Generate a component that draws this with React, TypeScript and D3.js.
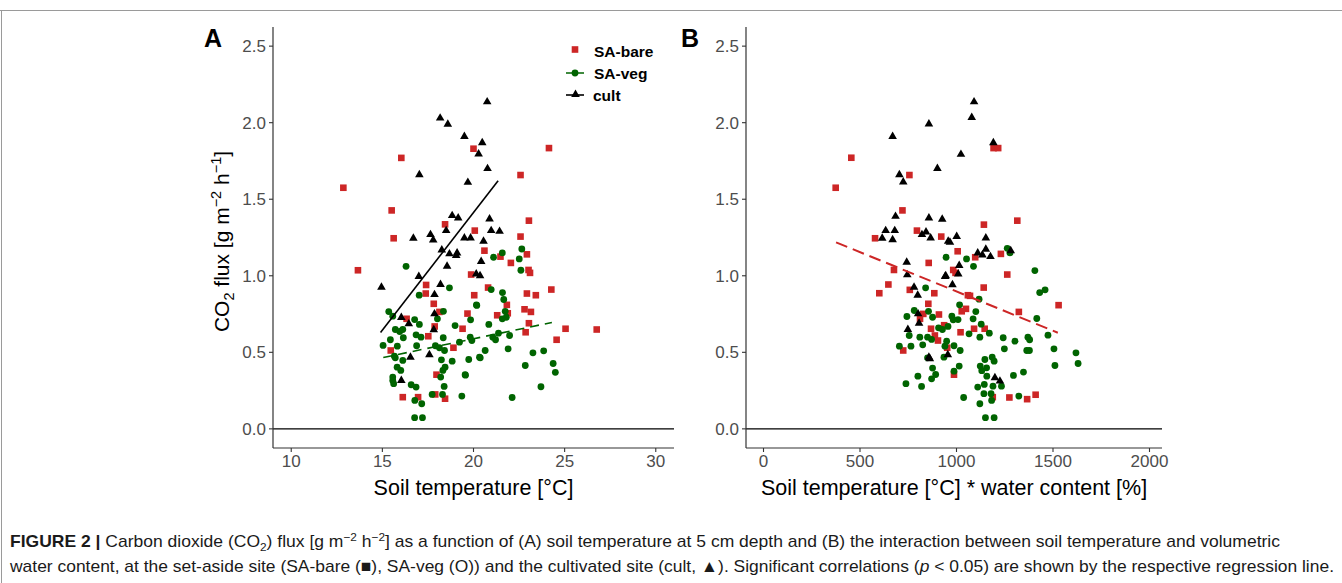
import React from 'react';
import * as d3 from 'd3';

const W = 1342;
const H = 583;

const yTicks = [0, 0.5, 1.0, 1.5, 2.0, 2.5];
const xTicksA = [10, 15, 20, 25, 30];
const xTicksB = [0, 500, 1000, 1500, 2000];

type P = [number, number];

// Panel A: soil temperature vs CO2 flux
const bareA: P[] = [
  [20.0,1.83],[16.04,1.77],[12.86,1.575],[15.51,1.427],[18.44,1.336],[20.07,1.295],[24.14,1.834],[22.58,1.658],
  [23.04,1.36],[15.62,1.245],[13.66,1.036],[19.87,1.008],[17.4,0.94],[17.38,0.884],[20.04,0.873],[17.82,0.817],
  [18.13,0.764],[19.67,0.753],[16.33,0.719],[17.87,0.669],[19.4,0.654],[17.52,0.605],[18.9,0.53],[15.46,0.512],
  [17.97,0.354],[16.12,0.207],[16.96,0.207],[17.9,0.225],[18.44,0.197],[22.58,1.256],[21.48,1.125],[20.6,1.164],
  [22.93,1.14],[22.05,1.084],[23.02,1.038],[23.1,1.019],[20.8,0.923],[24.27,0.91],[22.93,0.884],[23.42,0.873],
  [21.83,0.81],[22.8,0.781],[23.15,0.764],[21.3,0.742],[21.88,0.755],[23.04,0.69],[25.05,0.654],[26.76,0.649],
  [22.86,0.631],[24.56,0.582]
];
const vegA: P[] = [
  [16.3,1.062],[18.68,0.921],[17.02,0.873],[20.18,0.806],[18.35,0.768],[15.35,0.766],[16.77,0.714],[18.02,0.719],
  [15.57,0.736],[17.03,0.682],[19.84,0.712],[18.99,0.675],[15.71,0.649],[16.12,0.649],[15.95,0.636],[16.85,0.614],
  [17.12,0.599],[18.34,0.595],[16.15,0.595],[19.82,0.599],[19.91,0.577],[15.44,0.582],[15.04,0.545],[15.82,0.54],
  [16.88,0.543],[17.91,0.543],[18.13,0.53],[18.41,0.512],[15.66,0.475],[16.12,0.447],[15.71,0.464],[18.24,0.451],
  [18.83,0.442],[20.33,0.468],[18.44,0.403],[18.32,0.382],[15.81,0.403],[16.01,0.382],[19.54,0.354],[18.2,0.338],
  [15.57,0.338],[15.62,0.295],[15.57,0.316],[16.58,0.288],[16.85,0.273],[18.39,0.277],[16.78,0.186],[17.16,0.164],
  [17.73,0.225],[18.3,0.225],[19.36,0.214],[16.77,0.073],[17.2,0.073],[22.65,1.175],[21.1,1.121],[21.58,1.149],
  [22.51,1.11],[22.6,1.036],[20.97,0.91],[21.59,0.89],[21.66,0.845],[20.16,0.81],[21.74,0.768],[21.8,0.729],
  [21.58,0.719],[20.84,0.682],[21.37,0.625],[21.06,0.599],[21.21,0.582],[21.98,0.61],[19.23,0.566],[20.64,0.512],
  [19.74,0.453],[20.37,0.464],[21.9,0.523],[23.26,0.497],[23.85,0.51],[22.84,0.414],[24.37,0.427],[24.49,0.369],
  [19.56,0.351],[23.7,0.275],[22.12,0.205]
];
const cultA: P[] = [
  [18.17,2.03],[18.59,1.99],[19.5,1.91],[20.28,1.795],[20.75,2.136],[20.48,1.869],[20.77,1.7],[17.03,1.66],
  [19.69,1.61],[18.83,1.393],[19.16,1.378],[20.88,1.371],[18.5,1.295],[20.97,1.295],[21.43,1.29],[16.7,1.245],
  [17.64,1.269],[17.79,1.234],[19.5,1.247],[19.84,1.247],[20.55,1.225],[18.26,1.169],[18.68,1.143],[19.1,1.149],
  [19.05,1.132],[18.55,1.062],[20.42,1.093],[20.15,1.012],[20.36,1.0],[17.0,0.995],[14.95,0.925],[18.19,0.943],
  [17.86,0.877],[17.86,0.751],[16.04,0.727],[16.45,0.686],[17.82,0.647],[16.54,0.468],[17.58,0.484],[16.04,0.316]
];

// Panel B: soil temperature * water content vs CO2 flux
const bareB: P[] = [
  [455,1.771],[756,1.658],[374,1.575],[720,1.427],[795,1.295],[1192,1.834],[1216,1.834],[1142,1.334],
  [1315,1.36],[578,1.245],[921,1.256],[856,1.084],[676,1.038],[647,0.943],[600,0.886],[758,0.908],
  [885,0.886],[854,0.817],[828,0.751],[909,0.747],[811,0.719],[936,0.677],[868,0.654],[888,0.61],
  [904,0.577],[724,0.512],[952,0.53],[1006,1.16],[1230,1.143],[1097,1.121],[983,1.038],[995,1.019],
  [1263,1.008],[1141,0.923],[1059,0.873],[1070,0.869],[1529,0.808],[1049,0.784],[1027,0.768],[1323,0.764],
  [1091,0.654],[1146,0.654],[1021,0.631],[987,0.354],[1188,0.207],[1274,0.205],[1366,0.194],[1410,0.223]
];
const vegB: P[] = [
  [946,1.121],[840,0.921],[781,0.773],[855,0.768],[743,0.734],[876,0.729],[907,0.66],[927,0.649],
  [755,0.61],[810,0.599],[850,0.599],[871,0.584],[825,0.549],[764,0.54],[704,0.54],[940,0.54],
  [850,0.464],[935,0.468],[876,0.397],[892,0.355],[871,0.327],[800,0.344],[738,0.295],[819,0.277],
  [1263,1.179],[1277,1.149],[1052,1.11],[1088,1.062],[1406,1.034],[1431,0.89],[1459,0.908],[1117,0.847],
  [1016,0.81],[1100,0.766],[1416,0.721],[976,0.736],[983,0.712],[1008,0.714],[1086,0.719],[1128,0.684],
  [956,0.669],[1065,0.621],[1170,0.625],[1474,0.612],[1121,0.599],[1242,0.595],[1370,0.599],[1379,0.582],
  [1303,0.573],[949,0.573],[1248,0.523],[987,0.543],[1019,0.512],[1364,0.512],[1378,0.512],[1505,0.523],
  [1619,0.497],[1147,0.453],[1185,0.468],[1195,0.442],[1630,0.427],[1510,0.414],[1123,0.41],[1156,0.399],
  [1131,0.38],[1014,0.41],[987,0.377],[1347,0.371],[1295,0.349],[1157,0.344],[1233,0.279],[1189,0.279],
  [1144,0.29],[1110,0.273],[1142,0.23],[1179,0.23],[1182,0.186],[1323,0.214],[1037,0.205],[1121,0.164],
  [1150,0.073],[1195,0.073]
];
const cultB: P[] = [
  [857,1.991],[669,1.91],[901,1.701],[704,1.66],[724,1.612],[684,1.388],[857,1.378],[926,1.369],
  [1091,2.136],[1079,2.034],[1191,1.869],[1023,1.793],[633,1.295],[680,1.295],[615,1.245],[669,1.236],
  [821,1.269],[842,1.286],[866,1.247],[957,1.225],[742,1.088],[745,1.006],[944,1.0],[780,0.925],
  [799,0.873],[801,0.751],[806,0.69],[748,0.649],[857,0.468],[862,0.458],[1001,1.256],[966,1.219],
  [1152,1.247],[1110,1.149],[1134,1.136],[1152,1.173],[1176,1.125],[1281,1.164],[1014,1.067],[1009,1.012],
  [941,0.995],[979,0.941],[955,0.484],[1199,0.334],[1225,0.312]
];

// Regression lines (significant correlations)
const cultFitA: P[] = [[14.9, 0.63], [21.35, 1.62]];
const vegFitA: P[] = [[15.05, 0.466], [24.3, 0.695]];
const bareFitB: P[] = [[376, 1.218], [1525, 0.628]];

const RED = '#cd2626';
const GREEN = '#006400';
const BLACK = '#000000';
const AXIS = '#333333';
const TICKTXT = '#4d4d4d';
const FONT = '"Liberation Sans", Arial, sans-serif';

const TOP = 27;
const BOTTOM = 448;

const yScale = d3.scaleLinear().domain([-0.125, 2.625]).range([BOTTOM, TOP]);
const xA = d3.scaleLinear().domain([9, 31]).range([273, 674]);
const xB = d3.scaleLinear().domain([-90.7, 2064.8]).range([746, 1162]);

const triPath = d3.symbol().type(d3.symbolTriangle).size(32)() as string;

function Markers({ data, x, kind, color }: { data: P[]; x: d3.ScaleLinear<number, number>; kind: string; color: string }) {
  return (
    <g>
      {data.map((d, i) => {
        const cx = x(d[0]);
        const cy = yScale(d[1]);
        if (kind === 'square') {
          const s = 6.6;
          return <rect key={i} x={cx - s / 2} y={cy - s / 2} width={s} height={s} fill={color} />;
        }
        if (kind === 'circle') {
          return <circle key={i} cx={cx} cy={cy} r={3.4} fill={color} />;
        }
        return <path key={i} d={triPath} transform={`translate(${cx},${cy})`} fill={color} />;
      })}
    </g>
  );
}

function Panel({ x, xTicks, letter, letterX, xTitle, fits }: any) {
  const [x0, x1] = x.range();
  const line = d3.line<P>().x((d) => x(d[0])).y((d) => yScale(d[1]));
  return (
    <g>
      <line x1={x0} x2={x1} y1={yScale(0)} y2={yScale(0)} stroke={BLACK} strokeWidth={1.3} />
      <line x1={x0} x2={x0} y1={TOP} y2={BOTTOM} stroke={AXIS} strokeWidth={1.2} />
      <line x1={x0} x2={x1} y1={BOTTOM} y2={BOTTOM} stroke={AXIS} strokeWidth={1.2} />
      {yTicks.map((t) => (
        <g key={'y' + t}>
          <line x1={x0 - 4} x2={x0} y1={yScale(t)} y2={yScale(t)} stroke={AXIS} strokeWidth={1.1} />
          <text x={x0 - 7} y={yScale(t)} dy="0.36em" textAnchor="end" fontSize={17} fill={TICKTXT} fontFamily={FONT}>
            {t.toFixed(1)}
          </text>
        </g>
      ))}
      {xTicks.map((t: number) => (
        <g key={'x' + t}>
          <line x1={x(t)} x2={x(t)} y1={BOTTOM} y2={BOTTOM + 4} stroke={AXIS} strokeWidth={1.1} />
          <text x={x(t)} y={BOTTOM + 19} textAnchor="middle" fontSize={17} fill={TICKTXT} fontFamily={FONT}>
            {t}
          </text>
        </g>
      ))}
      <text x={(x0 + x1) / 2} y={BOTTOM + 47} textAnchor="middle" fontSize={21.5} fill={BLACK} fontFamily={FONT}>
        {xTitle}
      </text>
      <text x={letterX} y={47} fontSize={25} fontWeight="bold" fill={BLACK} fontFamily={FONT}>
        {letter}
      </text>
      {fits.map((f: any, i: number) => (
        <path key={i} d={line(f.data) as string} stroke={f.color} strokeWidth={f.width} strokeDasharray={f.dash} fill="none" />
      ))}
    </g>
  );
}

export default function App() {
  return (
    <svg width={W} height={H} style={{ display: 'block', position: 'absolute', left: 0, top: 0, background: '#fff' }}>
      <rect x={0} y={0} width={W} height={H} fill="#fff" />
      <line x1={0} x2={W} y1={10.5} y2={10.5} stroke="#9a9a9a" strokeWidth={1} />
      <line x1={1.5} x2={1.5} y1={10} y2={H} stroke="#9a9a9a" strokeWidth={1} />

      {/* Panel A */}
      <Markers data={bareA} x={xA} kind="square" color={RED} />
      <Markers data={vegA} x={xA} kind="circle" color={GREEN} />
      <Markers data={cultA} x={xA} kind="triangle" color={BLACK} />
      <Panel
        x={xA}
        xTicks={xTicksA}
        letter="A"
        letterX={204}
        xTitle="Soil temperature [°C]"
        fits={[
          { data: cultFitA, color: BLACK, width: 1.6, dash: null },
          { data: vegFitA, color: GREEN, width: 1.6, dash: '9,6' },
        ]}
      />
      <text transform={`translate(229,${(TOP + BOTTOM) / 2 + 4}) rotate(-90)`} textAnchor="middle" fontSize={21} fill={BLACK} fontFamily={FONT}>
        CO<tspan dy="5" fontSize={14.5}>2</tspan>
        <tspan dy="-5"> flux [g m</tspan>
        <tspan dy="-8" fontSize={14.5}>−2</tspan>
        <tspan dy="8"> h</tspan>
        <tspan dy="-8" fontSize={14.5}>−1</tspan>
        <tspan dy="8">]</tspan>
      </text>

      {/* Legend */}
      <g fontFamily={FONT} fontSize={15.5} fontWeight="bold" fill={BLACK}>
        <rect x={575 - 3.3} y={49.5 - 3.3} width={6.6} height={6.6} fill={RED} />
        <text x={594} y={51} dy="0.36em">SA-bare</text>
        <line x1={566} x2={584} y1={73} y2={73} stroke={GREEN} strokeWidth={1.6} strokeDasharray="9,3" />
        <circle cx={575} cy={73} r={3.4} fill={GREEN} />
        <text x={594} y={73} dy="0.36em">SA-veg</text>
        <line x1={566} x2={584} y1={95} y2={95} stroke={BLACK} strokeWidth={1.6} />
        <path d={triPath} transform="translate(575.5,94.5)" fill={BLACK} />
        <text x={593} y={95} dy="0.36em">cult</text>
      </g>

      {/* Panel B */}
      <Markers data={bareB} x={xB} kind="square" color={RED} />
      <Markers data={vegB} x={xB} kind="circle" color={GREEN} />
      <Markers data={cultB} x={xB} kind="triangle" color={BLACK} />
      <Panel
        x={xB}
        xTicks={xTicksB}
        letter="B"
        letterX={681}
        xTitle="Soil temperature [°C] * water content [%]"
        fits={[{ data: bareFitB, color: RED, width: 2, dash: '12,6' }]}
      />

      {/* Caption */}
      <g fontFamily={'"Liberation Sans Narrow", "Liberation Sans", Arial, sans-serif'} fontSize={17} fill="#1a1a1a">
        <text x={10} y={547} textLength={1270} lengthAdjust="spacingAndGlyphs">
          <tspan fontWeight="bold">FIGURE 2 | </tspan>
          <tspan>Carbon dioxide (CO</tspan>
          <tspan dy="4" fontSize={11.5}>2</tspan>
          <tspan dy="-4">) flux [g m</tspan>
          <tspan dy="-6" fontSize={11.5}>−2</tspan>
          <tspan dy="6"> h</tspan>
          <tspan dy="-6" fontSize={11.5}>−2</tspan>
          <tspan dy="6">] as a function of (A) soil temperature at 5 cm depth and (B) the interaction between soil temperature and volumetric</tspan>
        </text>
        <text x={10} y={572} textLength={1324} lengthAdjust="spacingAndGlyphs">
          water content, at the set-aside site (SA-bare (■), SA-veg (O)) and the cultivated site (cult, ▲). Significant correlations (
          <tspan fontStyle="italic">p</tspan> &lt; 0.05) are shown by the respective regression line.
        </text>
      </g>
    </svg>
  );
}
